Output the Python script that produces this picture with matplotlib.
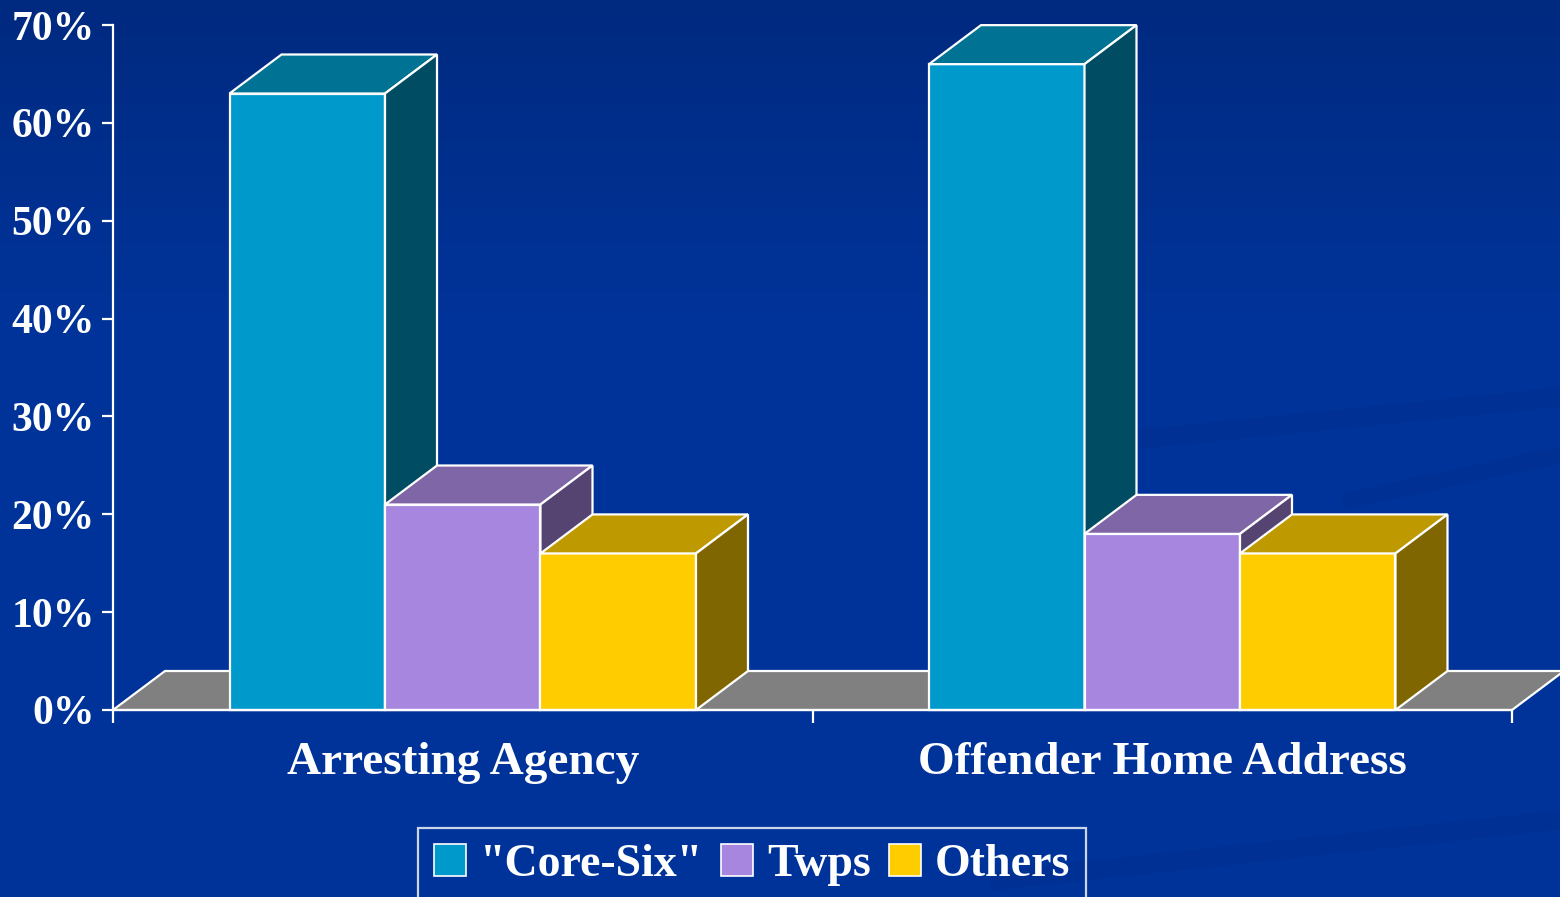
import numpy as np
import matplotlib
matplotlib.use("Agg")
import matplotlib.pyplot as plt
from matplotlib.patches import Polygon, Patch

# data
categories = ["Arresting Agency", "Offender Home Address"]
series_names = ['"Core-Six"', "Twps", "Others"]
core_six = [63, 66]
twps = [21, 18]
others = [16, 16]
values = [core_six, twps, others]

# front / top / side shades for each series
front_colors = ["#0099CC", "#A686DE", "#FFCC00"]
top_colors = ["#007294", "#7F66A6", "#BF9900"]
side_colors = ["#004C63", "#554472", "#806600"]

bg = "#003399"
W, H = 1560, 897
fig = plt.figure(figsize=(W / 100, H / 100), dpi=100)
fig.patch.set_facecolor(bg)

# background: slight vertical gradient plus faint swirl
bga = fig.add_axes([0, 0, 1, 1], zorder=-10)
bga.set_xlim(0, W)
bga.set_ylim(H, 0)
bga.axis("off")
grad = np.linspace(0, 1, 256).reshape(-1, 1)
top_c = np.array([0x00, 0x2A, 0x80]) / 255
mid_c = np.array([0x00, 0x33, 0x99]) / 255
t = np.clip(grad / 0.35, 0, 1)
img = top_c * (1 - t[..., None]) + mid_c * t[..., None]
bga.imshow(img, extent=[0, W, H, 0], aspect="auto")
sx = np.linspace(1130, 1560, 100)
bga.plot(sx, 440 - (sx - 1130) * 0.1, color="#002D8C", lw=14, alpha=0.35)
bga.plot(np.linspace(1350, 1560, 60), np.linspace(500, 455, 60), color="#002D8C", lw=12, alpha=0.35)
bga.plot(np.linspace(1000, 1560, 100), np.linspace(880, 820, 100), color="#002D8C", lw=14, alpha=0.35)

left, right, bottom, top = 113, 1512, 710, 25
ax = fig.add_axes([left / W, 1 - bottom / H, (right - left) / W, (bottom - top) / H])
ax.set_facecolor("none")
ax.set_xlim(0, 2)
ax.set_ylim(0, 70)

# 3d depth offset in data units (52 px right, 39 px up)
dx = 52 * 2 / (right - left)
dy = 39 * 70 / (bottom - top)
bw = 0.2223
ec = "white"
lw = 1.6

# floor
ax.add_patch(Polygon([(0, 0), (2, 0), (2 + dx, dy), (dx, dy)], closed=True,
                     facecolor="#808080", edgecolor=ec, lw=lw, clip_on=False, zorder=1))

z = 2
for g in range(len(categories)):
    center = g + 0.5
    for i in range(len(series_names)):
        x0 = center + (i - 1.5) * bw
        x1 = x0 + bw
        h = values[i][g]
        ax.add_patch(Polygon([(x0, 0), (x1, 0), (x1, h), (x0, h)], closed=True,
                             facecolor=front_colors[i], edgecolor=ec, lw=lw, clip_on=False, zorder=z))
        ax.add_patch(Polygon([(x0, h), (x1, h), (x1 + dx, h + dy), (x0 + dx, h + dy)], closed=True,
                             facecolor=top_colors[i], edgecolor=ec, lw=lw, clip_on=False, zorder=z))
        ax.add_patch(Polygon([(x1, 0), (x1 + dx, dy), (x1 + dx, h + dy), (x1, h)], closed=True,
                             facecolor=side_colors[i], edgecolor=ec, lw=lw, clip_on=False, zorder=z))
        z += 1

for s in ["top", "right"]:
    ax.spines[s].set_visible(False)
for s in ["left", "bottom"]:
    ax.spines[s].set_color("white")
    ax.spines[s].set_linewidth(1.6)
    ax.spines[s].set_zorder(50)

font = {"family": "Liberation Serif", "weight": "bold"}
ax.set_yticks(range(0, 71, 10))
ax.set_yticklabels([f"{v}%" for v in range(0, 71, 10)], fontdict=font, fontsize=30, color="white")
ax.tick_params(axis="y", colors="white", length=8, width=1.6, pad=5)

ax.set_xticks([0, 1, 2])
ax.set_xticklabels(["", "", ""])
ax.set_xticks([0.5, 1.5], minor=True)
ax.set_xticklabels(categories, minor=True, fontdict=font, fontsize=34, color="white")
ax.tick_params(axis="x", which="major", colors="white", length=9, width=1.6)
ax.tick_params(axis="x", which="minor", length=0, pad=23)

handles = [Patch(facecolor=c, edgecolor="white", lw=1.2) for c in front_colors]
leg = fig.legend(handles, series_names, loc="upper center", bbox_to_anchor=(752 / W, 1 - 828 / H),
                 ncol=3, frameon=True, fancybox=False, borderaxespad=0,
                 prop={"family": "Liberation Serif", "weight": "bold", "size": 33},
                 handlelength=0.7, handleheight=0.7, handletextpad=0.3, columnspacing=0.4,
                 borderpad=0.35)
leg.get_frame().set_facecolor("none")
leg.get_frame().set_edgecolor("white")
leg.get_frame().set_linewidth(1.6)
for txt in leg.get_texts():
    txt.set_color("white")

fig.savefig("out.png", dpi=100, facecolor=fig.get_facecolor())
